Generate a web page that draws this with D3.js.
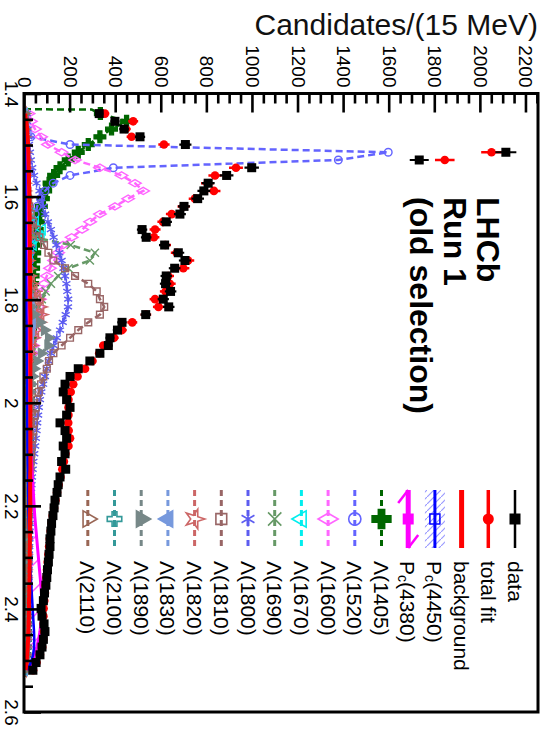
<!DOCTYPE html>
<html><head><meta charset="utf-8">
<script src="https://cdn.jsdelivr.net/npm/d3@7"></script>
<style>
html,body{margin:0;padding:0;background:#fff;}
svg{display:block;font-family:"Liberation Sans",Arial,Helvetica,sans-serif;}
</style></head><body>
<svg id="chart" width="543" height="731"></svg>
<script>
// m(Kp) bin centres in GeV (15 MeV bins)
const massBins = [
 1.439,1.454,1.469,1.484,1.499,1.514,1.529,1.544,1.559,1.574,
 1.589,1.604,1.619,1.634,1.649,1.664,1.679,1.694,1.709,1.724,
 1.739,1.754,1.769,1.784,1.799,1.814,1.829,1.844,1.859,1.874,
 1.889,1.904,1.919,1.934,1.949,1.964,1.979,1.994,2.009,2.024,
 2.039,2.054,2.069,2.084,2.099,2.114,2.129,2.144,2.159,2.174,
 2.189,2.204,2.219,2.234,2.249,2.264,2.279,2.294,2.309,2.324,
 2.339,2.354,2.369,2.384,2.399,2.414,2.429,2.444,2.459,2.474,
 2.489,2.504,2.519];

const dataCounts = [
 330,399,439,509,708,2114,1734,999,889,808,
 789,762,702,684,624,518,536,617,677,706,
 661,624,621,643,611,635,534,430,410,377,
 370,333,289,238,202,180,172,187,202,187,
 158,180,187,172,180,165,183,158,150,145,
 136,132,127,121,118,114,114,110,107,103,
 100,96,90,85,75,79,88,92,85,79,
 70,53,39];

const fitCounts = [
 355,479,447,472,614,2051,1846,930,838,805,
 833,750,700,648,610,575,570,620,670,720,
 699,633,640,621,575,590,535,475,430,395,
 348,330,300,268,235,216,205,195,195,195,
 194,196,202,195,182,175,168,160,152,145,
 138,132,126,121,117,113,110,107,104,101,
 98,95,92,89,86,85,86,88,85,80,
 70,55,40];

const backgroundCurve = [
 5,10,14,16,18,19,20,21,22,22,
 23,23,24,24,25,25,25,26,26,26,
 26,27,27,27,27,27,28,28,28,28,
 28,28,28,28,28,28,28,28,28,28,
 28,28,28,28,28,28,28,27,27,27,
 27,27,26,26,26,26,25,25,25,24,
 24,23,23,22,22,21,20,19,18,16,
 14,11,7];

const pc4450 = [
 2,3,4,4,5,5,5,6,6,6,
 6,7,7,7,7,8,8,8,8,9,
 9,9,9,10,10,10,10,11,11,11,
 11,12,12,12,12,13,13,13,14,14,
 14,15,15,15,16,16,17,17,18,18,
 19,19,20,21,22,23,24,25,26,28,
 30,32,34,36,38,40,42,44,45,44,
 40,30,15];

const pc4380 = [
 3,5,6,7,8,8,9,9,10,10,
 10,11,11,11,12,12,12,13,13,13,
 14,14,14,15,15,15,16,16,17,17,
 18,18,19,19,20,21,22,23,24,25,
 26,27,28,30,31,33,35,37,39,41,
 43,45,47,50,53,56,59,62,65,68,
 71,74,76,78,78,77,74,70,64,56,
 46,34,18];

// Λ(1405) starts right at the K p threshold
const lambda1405Threshold = [[1.4306, 0], [1.4312, 297]];
const lambda1405 = [
 335,450,384,333,282,238,194,158,130,110,
 95,85,76,69,63,58,54,50,47,44,
 42,40,38,36,34,33,31,30,29,28,
 27,26,25,24,23,22,21,20,19,18,
 17,16,16,15,15,14,14,13,13,12,
 12,11,11,10,10,10,9,9,9,8,
 8,8,7,7,7,6,6,6,5,5,
 4,3,2];

const lambda1520 = [
 3,6,12,30,202,1598,1379,392,202,128,
 92,72,58,49,42,37,33,30,27,25,
 23,21,20,19,18,17,16,15,14,13,
 13,12,12,11,11,10,10,10,9,9,
 9,8,8,8,7,7,7,7,6,6,
 6,6,6,5,5,5,5,5,5,4,
 4,4,4,4,4,4,3,3,3,3,
 3,2,1];

const lambda1600 = [
 20,30,48,75,105,165,224,333,428,487,
 523,457,399,333,290,255,209,171,150,132,
 114,100,88,78,70,63,57,52,47,43,
 40,37,34,32,30,28,26,24,23,22,
 21,20,19,18,17,16,15,15,14,13,
 13,12,12,11,11,10,10,10,9,9,
 9,8,8,8,7,7,7,6,6,6,
 5,4,3];

const lambda1670 = [
 2,2,3,3,4,5,6,7,8,10,
 12,15,20,30,50,80,75,40,22,15,
 12,10,9,8,7,7,6,6,5,5,
 5,5,4,4,4,4,4,3,3,3,
 3,3,3,3,3,2,2,2,2,2,
 2,2,2,2,2,2,2,2,2,2,
 1,1,1,1,1,1,1,1,1,1,
 1,1,1];

const lambda1690 = [
 3,3,4,4,5,5,6,7,8,9,
 10,12,14,16,20,28,45,205,311,289,
 195,150,118,95,78,65,55,48,42,38,
 34,31,28,26,24,22,21,20,19,18,
 17,16,15,15,14,14,13,13,12,12,
 11,11,11,10,10,10,9,9,9,9,
 8,8,8,8,7,7,7,7,6,6,
 5,4,3];

const lambda1800 = [
 12,14,16,19,22,26,30,36,44,55,
 68,76,84,93,105,118,130,142,155,165,
 173,180,186,190,194,193,183,170,158,144,
 130,118,108,100,92,84,76,70,65,62,
 58,55,52,49,45,41,38,35,33,31,
 29,28,27,26,25,24,23,22,21,20,
 19,18,17,16,15,15,14,13,12,11,
 10,8,6];

const lambda1810 = [
 3,3,4,4,5,6,7,8,10,12,
 15,18,23,30,39,56,68,88,107,129,
 180,224,282,319,333,352,333,282,238,202,
 165,129,110,100,85,75,65,58,52,47,
 43,40,37,34,32,30,28,26,25,24,
 22,21,20,19,18,17,17,16,15,15,
 14,13,13,12,12,11,11,10,10,9,
 8,6,4];

const lambda1820 = [
 1,1,1,2,2,2,3,3,4,4,
 5,6,7,8,9,10,12,14,16,19,
 23,28,36,48,62,75,78,70,55,42,
 33,27,23,20,18,16,14,13,12,11,
 10,9,9,8,8,7,7,7,6,6,
 6,5,5,5,5,4,4,4,4,4,
 3,3,3,3,3,3,3,2,2,2,
 2,2,1];

const lambda1830 = [
 1,1,1,1,1,2,2,2,2,3,
 3,3,4,4,5,5,6,7,8,10,
 12,14,17,21,26,31,35,36,33,28,
 23,19,16,14,12,11,10,9,8,7,
 7,6,6,5,5,5,5,4,4,4,
 4,4,3,3,3,3,3,3,3,2,
 2,2,2,2,2,2,2,2,2,2,
 1,1,1];

const lambda1890 = [
 1,1,1,1,2,2,2,2,3,3,
 3,4,4,5,5,6,7,8,9,10,
 12,14,16,19,24,30,45,70,90,108,
 105,76,58,45,38,31,26,23,20,18,
 17,15,14,13,12,11,10,10,9,9,
 8,8,7,7,7,6,6,6,5,5,
 5,5,5,4,4,4,4,4,3,3,
 3,2,2];

const lambda2100 = [
 1,1,1,1,1,1,1,1,2,2,
 2,2,2,2,3,3,3,3,3,4,
 4,4,4,5,5,5,6,6,6,7,
 7,8,8,9,10,10,11,12,13,14,
 15,16,17,18,18,18,17,16,15,14,
 13,12,11,10,9,9,8,8,7,7,
 6,6,6,5,5,5,4,4,4,3,
 3,2,2];

const lambda2110 = [
 1,1,1,1,1,1,1,1,1,2,
 2,2,2,2,2,3,3,3,3,3,
 4,4,4,4,5,5,5,6,6,6,
 7,7,8,8,9,9,10,11,12,13,
 14,15,16,17,18,19,19,19,18,17,
 16,15,14,13,12,11,10,10,9,8,
 8,7,7,6,6,5,5,5,4,4,
 3,3,2];

const countTicks = [0,200,400,600,800,1000,1200,1400,1600,1800,2000,2200];
const countTickLabels = ["0","200","400","600","800","1000","1200","1400","1600","1800","2000","2200"];
const massTicks = [1.4,1.6,1.8,2.0,2.2,2.4,2.6];
const massTickLabels = ["1.4","1.6","1.8","2","2.2","2.4","2.6"];

const yTitle = "Candidates/(15 MeV)";
const labelLines = ["LHCb","Run 1","(old selection)"];

// ---- components and their drawing styles ----
const components = [
  {name:"Λ(1405)", values:lambda1405, lead:lambda1405Threshold},
  {name:"Λ(1520)", values:lambda1520},
  {name:"Λ(1600)", values:lambda1600},
  {name:"Λ(1670)", values:lambda1670},
  {name:"Λ(1690)", values:lambda1690},
  {name:"Λ(1800)", values:lambda1800},
  {name:"Λ(1810)", values:lambda1810},
  {name:"Λ(1820)", values:lambda1820},
  {name:"Λ(1830)", values:lambda1830},
  {name:"Λ(1890)", values:lambda1890},
  {name:"Λ(2100)", values:lambda2100},
  {name:"Λ(2110)", values:lambda2110}
];
const styles = {
  "Λ(1405)": {color:"#006600", sym:d3.symbolCross, size:75, fill:true, rot:0},
  "Λ(1520)": {color:"#6464ff", sym:d3.symbolCircle, size:45, fill:false, rot:0},
  "Λ(1600)": {color:"#ff66ff", sym:d3.symbolDiamond, size:45, fill:false, rot:90},
  "Λ(1670)": {color:"#00eeee", sym:d3.symbolTriangle, size:45, fill:false, rot:-90},
  "Λ(1690)": {color:"#669966", sym:d3.symbolTimes, size:45, fill:false, rot:0},
  "Λ(1800)": {color:"#5c5cf0", sym:d3.symbolAsterisk, size:60, fill:false, rot:0},
  "Λ(1810)": {color:"#996666", sym:d3.symbolSquare, size:45, fill:false, rot:0},
  "Λ(1820)": {color:"#cc6666", sym:d3.symbolStar, size:45, fill:false, rot:90},
  "Λ(1830)": {color:"#7799dd", sym:d3.symbolTriangle, size:45, fill:true, rot:-90},
  "Λ(1890)": {color:"#778888", sym:d3.symbolTriangle, size:45, fill:true, rot:90},
  "Λ(2100)": {color:"#339999", sym:d3.symbolCross, size:40, fill:false, rot:0},
  "Λ(2110)": {color:"#996655", sym:d3.symbolTriangle, size:35, fill:false, rot:90}
};

// ---- layout ----
const plot = {left:24, right:538, top:93.5, bottom:712};
const xC = d3.scaleLinear().domain([0, 2255]).range([plot.left, plot.right]);
const yM = d3.scaleLinear().domain([1.4, 2.6]).range([plot.top, plot.bottom]);

const svg = d3.select("#chart");
svg.append("rect").attr("width",543).attr("height",731).attr("fill","#fff");
const defs = svg.append("defs");
defs.append("clipPath").attr("id","plotClip").append("rect")
  .attr("x",plot.left).attr("y",plot.top)
  .attr("width",plot.right-plot.left).attr("height",plot.bottom-plot.top);

const hatchBlue = defs.append("pattern").attr("id","hatchBlue")
  .attr("patternUnits","userSpaceOnUse").attr("width",7).attr("height",7);
hatchBlue.append("path").attr("d","M-1,8 L8,-1").attr("stroke","#9a9aff").attr("stroke-width",1.2);
const hatchMag = defs.append("pattern").attr("id","hatchMag")
  .attr("patternUnits","userSpaceOnUse").attr("width",26).attr("height",26);
hatchMag.append("path").attr("d","M-2,28 L28,-2").attr("stroke","#ff55ff").attr("stroke-width",1.4);

const body = svg.append("g").attr("clip-path","url(#plotClip)");

// P_c bands (hatched, down to zero)
const bandArea = d3.area()
  .y((d,i)=>yM(massBins[i])).x0(xC(0)).x1(d=>xC(d));
body.append("path").datum(pc4450).attr("d",bandArea).attr("fill","url(#hatchBlue)");
body.append("path").datum(pc4380).attr("d",bandArea).attr("fill","url(#hatchMag)");

const line = d3.line().x(d=>xC(d[1])).y(d=>yM(d[0]));
const pairs = vals => vals.map((v,i)=>[massBins[i], v]);

// Λ components
components.forEach(c=>{
  const st = styles[c.name];
  const pts = (c.lead ? c.lead : []).concat(pairs(c.values));
  body.append("path").datum(pts).attr("d",line)
    .attr("fill","none").attr("stroke",st.color).attr("stroke-width",2.5)
    .attr("stroke-dasharray","7,4");
  const sym = d3.symbol(st.sym, st.size)();
  body.append("g").selectAll("path").data(pairs(c.values)).join("path")
    .attr("d",sym)
    .attr("transform",d=>`translate(${xC(d[1])},${yM(d[0])}) rotate(${st.rot})`)
    .attr("fill",st.fill ? st.color : "none")
    .attr("stroke",st.color).attr("stroke-width",1.4);
});

// background and P_c lines
body.append("path").datum(pairs(pc4380)).attr("d",line)
  .attr("fill","none").attr("stroke","#ff00ff").attr("stroke-width",3);
body.append("path").datum(pairs(pc4450)).attr("d",line)
  .attr("fill","none").attr("stroke","#0000ff").attr("stroke-width",2.5);
body.append("path").datum(pairs(backgroundCurve)).attr("d",line)
  .attr("fill","none").attr("stroke","#ff0000").attr("stroke-width",4);

// total fit points with Poisson bars
const fitG = body.append("g");
fitG.selectAll("line").data(pairs(fitCounts)).join("line")
  .attr("x1",d=>xC(d[1]-Math.sqrt(d[1]))).attr("x2",d=>xC(d[1]+Math.sqrt(d[1])))
  .attr("y1",d=>yM(d[0])).attr("y2",d=>yM(d[0]))
  .attr("stroke","#ff0000").attr("stroke-width",2.5);
fitG.selectAll("circle").data(pairs(fitCounts)).join("circle")
  .attr("cx",d=>xC(d[1])).attr("cy",d=>yM(d[0])).attr("r",4.3).attr("fill","#ff0000");

// data points with Poisson bars
const dataG = body.append("g");
dataG.selectAll("line").data(pairs(dataCounts)).join("line")
  .attr("x1",d=>xC(d[1]-Math.sqrt(d[1]))).attr("x2",d=>xC(d[1]+Math.sqrt(d[1])))
  .attr("y1",d=>yM(d[0])).attr("y2",d=>yM(d[0]))
  .attr("stroke","#000").attr("stroke-width",2.2);
dataG.selectAll("rect").data(pairs(dataCounts)).join("rect")
  .attr("x",d=>xC(d[1])-4.5).attr("y",d=>yM(d[0])-4.5)
  .attr("width",9).attr("height",9).attr("fill","#000");

// ---- axes ----
const axisFont = 19;
const minorCounts = d3.range(0, 2255, 50).filter(v=>v%200!==0);
const minorMass = d3.range(0, 25).map(i=>1.4+i*0.05).filter((v,i)=>i%4!==0);

const topMinor = svg.append("g").attr("transform",`translate(0,${plot.top})`)
  .call(d3.axisTop(xC).tickValues(minorCounts).tickSize(-10).tickFormat(""));
const topMajor = svg.append("g").attr("transform",`translate(0,${plot.top})`)
  .call(d3.axisTop(xC).tickValues(countTicks).tickSize(-19)
        .tickFormat((d,i)=>countTickLabels[i]));
topMajor.selectAll("text")
  .attr("x",-6).attr("y",0).attr("dy",null)
  .attr("transform","rotate(90)")
  .attr("text-anchor","end").attr("dominant-baseline","central")
  .attr("font-size",axisFont).attr("font-family","Liberation Sans, Arial, sans-serif").attr("fill","#000");

const leftMinor = svg.append("g").attr("transform",`translate(${plot.left},0)`)
  .call(d3.axisLeft(yM).tickValues(minorMass).tickSize(-9).tickFormat(""));
const leftMajor = svg.append("g").attr("transform",`translate(${plot.left},0)`)
  .call(d3.axisLeft(yM).tickValues(massTicks).tickSize(-17)
        .tickFormat((d,i)=>massTickLabels[i]));
leftMajor.selectAll("text")
  .attr("x",0).attr("y",13).attr("dy",null)
  .attr("transform","rotate(90)")
  .attr("text-anchor","middle").attr("dominant-baseline","central")
  .attr("font-size",axisFont).attr("font-family","Liberation Sans, Arial, sans-serif").attr("fill","#000");

[topMinor, topMajor, leftMinor, leftMajor].forEach(g=>{
  g.select(".domain").remove();
  g.selectAll(".tick line").attr("stroke","#000").attr("stroke-width",2.6);
});

// frame
svg.append("rect").attr("x",plot.left).attr("y",plot.top)
  .attr("width",plot.right-plot.left).attr("height",plot.bottom-plot.top)
  .attr("fill","none").attr("stroke","#000").attr("stroke-width",3);

// axis title
svg.append("text").attr("x",538).attr("y",35).attr("text-anchor","end")
  .attr("font-size",30).attr("fill","#111").text(yTitle);

// experiment label
const lab = svg.append("g");
labelLines.forEach((t,i)=>{
  lab.append("text").attr("transform",`translate(${488-i*33.5},197) rotate(90)`)
    .attr("dominant-baseline","central").attr("font-size",32).attr("font-weight","bold")
    .attr("fill","#000").text(t);
});

// ---- legend ----
const legendNames = ["data","total fit","background","P_c(4450)","P_c(4380)"]
  .concat(components.map(c=>c.name));
const legX = i => 515 - i*26.7;
const legTop = 490, legBot = 548, legMid = 519, legText = 561;
const leg = svg.append("g");
legendNames.forEach((name,i)=>{
  const x = legX(i);
  const g = leg.append("g");
  if (name==="data") {
    g.append("line").attr("x1",x).attr("x2",x).attr("y1",legTop).attr("y2",legBot).attr("stroke","#000").attr("stroke-width",2.5);
    g.append("rect").attr("x",x-5.5).attr("y",legMid-5.5).attr("width",11).attr("height",11).attr("fill","#000");
  } else if (name==="total fit") {
    g.append("line").attr("x1",x).attr("x2",x).attr("y1",legTop).attr("y2",legBot).attr("stroke","#ff0000").attr("stroke-width",3.5);
    g.append("circle").attr("cx",x).attr("cy",legMid).attr("r",5.5).attr("fill","#ff0000");
  } else if (name==="background") {
    g.append("line").attr("x1",x).attr("x2",x).attr("y1",legTop).attr("y2",legBot).attr("stroke","#ff0000").attr("stroke-width",5);
  } else if (name==="P_c(4450)") {
    g.append("rect").attr("x",x-10).attr("y",legTop).attr("width",20).attr("height",legBot-legTop).attr("fill","url(#hatchBlue)");
    g.append("line").attr("x1",x).attr("x2",x).attr("y1",legTop).attr("y2",legBot).attr("stroke","#0000ff").attr("stroke-width",3);
    g.append("rect").attr("x",x-5).attr("y",legMid-5).attr("width",10).attr("height",10).attr("fill","none").attr("stroke","#0000ff").attr("stroke-width",1.5);
  } else if (name==="P_c(4380)") {
    g.append("path").attr("d",`M${x-10},${legTop+13} L${x},${legTop}`).attr("stroke","#ff00ff").attr("stroke-width",2.5);
    g.append("path").attr("d",`M${x},${legBot} L${x+10},${legBot-13}`).attr("stroke","#ff00ff").attr("stroke-width",2.5);
    g.append("line").attr("x1",x).attr("x2",x).attr("y1",legTop).attr("y2",legBot).attr("stroke","#ff00ff").attr("stroke-width",5);
    g.append("rect").attr("x",x-5.5).attr("y",legMid-5.5).attr("width",11).attr("height",11).attr("fill","#ff00ff");
  } else {
    const st = styles[name];
    g.append("line").attr("x1",x).attr("x2",x).attr("y1",legTop).attr("y2",legBot)
      .attr("stroke",st.color).attr("stroke-width",3).attr("stroke-dasharray","6,4");
    g.append("path").attr("d",d3.symbol(st.sym, Math.max(st.size,45)*2.6)())
      .attr("transform",`translate(${x},${legMid}) rotate(${st.rot})`)
      .attr("fill",st.fill ? st.color : "none").attr("stroke",st.color).attr("stroke-width",1.6);
  }
  const t = g.append("text").attr("transform",`translate(${x},${legText}) rotate(90)`)
    .attr("dominant-baseline","central").attr("font-size",21).attr("fill","#000");
  if (name.startsWith("P_c")) {
    t.append("tspan").text("P");
    t.append("tspan").attr("font-size",14).attr("dy",5).text("c");
    t.append("tspan").attr("dy",-5).text(name.slice(3));
  } else {
    t.text(name);
  }
});
</script>
</body></html>
